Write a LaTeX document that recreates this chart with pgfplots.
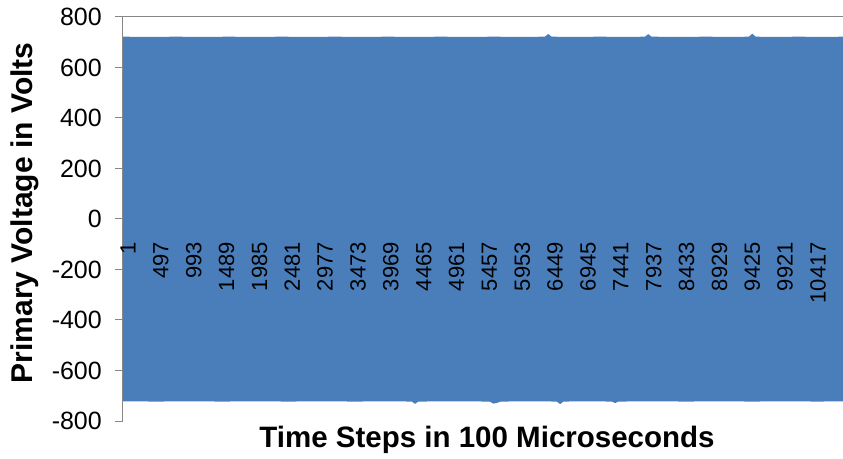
\documentclass[border=0pt]{standalone}
\usepackage{pgfplots}
\pgfplotsset{compat=1.18}
\usetikzlibrary{calc}
\usepackage{fontspec}
\setmainfont{Liberation Sans}
\definecolor{xlblue}{HTML}{4A7EBB}
\definecolor{axgray}{HTML}{868686}
\begin{document}
\begin{tikzpicture}
\begin{axis}[name=ax, scale only axis, width=720pt, height=404pt,
  axis on top,
  xmin=1, xmax=10870, ymin=-800, ymax=800,
  axis y line*=left, axis x line*=middle,
  x axis line style={draw=none},
  y axis line style={axgray, line width=1pt},
  ytick={-800,-600,...,800},
  ytick style={axgray, line width=1pt},
  tick align=outside, major tick length=8pt,
  extra y ticks={800}, extra y tick labels={},
  extra y tick style={grid=major, major grid style={axgray, line width=1pt}, tick style={draw=none}},
  scaled x ticks=false, hide obscured x ticks=false,
  xtick={1,497,993,1489,1985,2481,2977,3473,3969,4465,4961,5457,5953,6449,6945,7441,7937,8433,8929,9425,9921,10417},
  xticklabels={1,497,993,1489,1985,2481,2977,3473,3969,4465,4961,5457,5953,6449,6945,7441,7937,8433,8929,9425,9921,10417},
  xtick style={draw=none},
  /pgf/number format/assume math mode=true,
  /pgf/number format/set thousands separator={},
  yticklabel style={font=\fontsize{25}{25}\selectfont, anchor=east, inner sep=0pt, xshift=-13pt},
  xticklabel style={font=\fontsize{22}{22}\selectfont, inner sep=0pt, xshift=5pt, yshift=-15pt, rotate=90, anchor=east},
  xlabel={Time Steps in 100 Microseconds},
  ylabel={Primary Voltage in Volts},
  xlabel style={font=\bfseries\fontsize{29.5}{29.5}\selectfont, at={(axis description cs:0.5,0)}, anchor=center, yshift=-19pt, xshift=4pt},
  ylabel style={font=\bfseries\fontsize{30}{30}\selectfont, at={(axis description cs:0,0.5)}, anchor=center, yshift=98pt, xshift=6pt},
]
\addplot[fill=xlblue, draw=none] coordinates {
  (1,722) (400,721) (800,722) (1200,721) (1600,722) (2000,721) (2400,722)
  (2800,721) (3200,722) (3600,721) (4000,722) (4400,721) (4800,722)
  (5200,721) (5600,722) (6000,721) (6370,722) (6420,733) (6470,722)
  (6800,721) (7200,722) (7600,721) (7880,722) (7930,732) (7980,722)
  (8400,721) (8800,722) (9200,721) (9450,722) (9500,734) (9550,722)
  (9800,721) (10200,722) (10600,721) (10870,722)
  (10870,-722) (10500,-723) (10000,-722) (9500,-723) (9000,-722) (8500,-723)
  (8000,-722) (7480,-723) (7430,-729) (7380,-723) (7000,-722) (6650,-723)
  (6600,-733) (6550,-723) (6200,-722) (5700,-723) (5640,-729) (5590,-731)
  (5540,-723) (5000,-722) (4460,-723) (4410,-732) (4360,-723) (4000,-722)
  (3500,-723) (3000,-722) (2500,-723) (2000,-722) (1500,-723) (1000,-722)
  (500,-723) (1,-722)
} -- cycle;
\end{axis}
\pgfresetboundingbox
\path[use as bounding box] ($(ax.south west)+(-123pt,-37pt)$) rectangle ($(ax.north east)+(0pt,17pt)$);
\end{tikzpicture}
\end{document}
